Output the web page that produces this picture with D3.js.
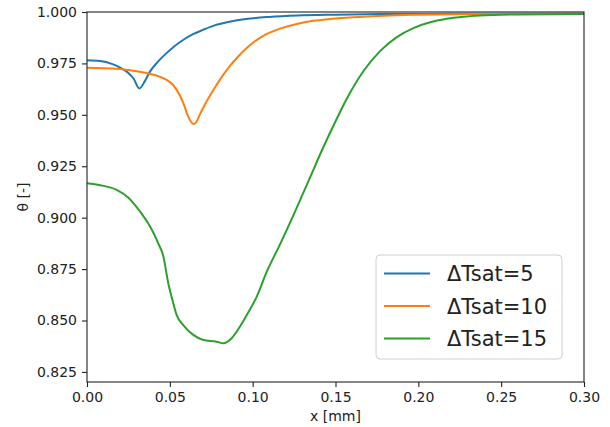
<!DOCTYPE html>
<html lang="en">
  <head>
    <meta charset="utf-8">
    <script src="https://cdn.jsdelivr.net/npm/d3@7"></script>
    <style>
      body { margin: 0; background: white; }
      text { font-family: "DejaVu Sans", sans-serif; }
    </style>
  </head>
  <body>
    <svg class="chart"></svg>
  </body>
  <script>
    // values
    var seriesNames = ['ΔTsat=5', 'ΔTsat=10', 'ΔTsat=15'];

    var xBlue = [0, 0.008, 0.015, 0.02, 0.025, 0.028, 0.0316, 0.035, 0.038, 0.043, 0.048, 0.053, 0.058, 0.064, 0.07, 0.077, 0.086, 0.096, 0.11, 0.127, 0.15, 0.18, 0.22, 0.26, 0.3];
    var yBlue = [0.9766, 0.9762, 0.9748, 0.9730, 0.9703, 0.9678, 0.9628, 0.9665, 0.9710, 0.9760, 0.9800, 0.9835, 0.9864, 0.9892, 0.9913, 0.9935, 0.9953, 0.9966, 0.9976, 0.9983, 0.9987, 0.9990, 0.9991, 0.9992, 0.9992];

    var xOrange = [0, 0.01, 0.022, 0.03, 0.038, 0.043, 0.048, 0.052, 0.056, 0.0585, 0.0602, 0.0625, 0.0645, 0.066, 0.068, 0.071, 0.0762, 0.081, 0.0863, 0.0914, 0.0964, 0.1014, 0.1064, 0.1165, 0.1266, 0.1366, 0.1466, 0.1667, 0.197, 0.237, 0.3];
    var yOrange = [0.9729, 0.9727, 0.9721, 0.9712, 0.9699, 0.9688, 0.9670, 0.9645, 0.9595, 0.9550, 0.9510, 0.9470, 0.9455, 0.9465, 0.9500, 0.9548, 0.9620, 0.9680, 0.9738, 0.9785, 0.9825, 0.9858, 0.9884, 0.9919, 0.9942, 0.9957, 0.9966, 0.9977, 0.9987, 0.9990, 0.9991];

    var xGreen = [0, 0.008, 0.0179, 0.025, 0.032, 0.037, 0.04, 0.043, 0.046, 0.0491, 0.0521, 0.0541, 0.0581, 0.0642, 0.0702, 0.0782, 0.0823, 0.0873, 0.0923, 0.0974, 0.1024, 0.1084, 0.1165, 0.1245, 0.1346, 0.1425, 0.1507, 0.1568, 0.1668, 0.1769, 0.187, 0.197, 0.2071, 0.2172, 0.2372, 0.26, 0.3];
    var yGreen = [0.9167, 0.9158, 0.9135, 0.9097, 0.9030, 0.8972, 0.8928, 0.8875, 0.8815, 0.8680, 0.8584, 0.8527, 0.8478, 0.8430, 0.8405, 0.8397, 0.8389, 0.8414, 0.8470, 0.8540, 0.8615, 0.8735, 0.8870, 0.9010, 0.9195, 0.9340, 0.9480, 0.9578, 0.9712, 0.9810, 0.9878, 0.9922, 0.9950, 0.9967, 0.9983, 0.9988, 0.9990];

    var xTicks = [0, 0.05, 0.10, 0.15, 0.20, 0.25, 0.30];
    var yTicks = [0.825, 0.850, 0.875, 0.900, 0.925, 0.950, 0.975, 1.000];

    var colors = ['#1f77b4', '#ff7f0e', '#2ca02c'];

    var series = [
      {name: seriesNames[0], xs: xBlue, ys: yBlue},
      {name: seriesNames[1], xs: xOrange, ys: yOrange},
      {name: seriesNames[2], xs: xGreen, ys: yGreen}
    ];

    var screenWidth = 610, screenHeight = 427;
    var margins = {top: 12, bottom: 45, left: 87, right: 26};
    var width = screenWidth - margins.left - margins.right;
    var height = screenHeight - margins.top - margins.bottom;

    var svg = d3.select('.chart')
                .attr('width', screenWidth)
                .attr('height', screenHeight);

    var xScale = d3.scaleLinear().domain([0, 0.3]).range([0, width]);
    var yScale = d3.scaleLinear().domain([0.8201, 1.0]).range([height, 0]);

    var plot = svg.append('g')
                  .attr('transform', 'translate(' + margins.left + ',' + margins.top + ')');

    var line = d3.line()
                 .x(function(d){ return xScale(d[0]); })
                 .y(function(d){ return yScale(d[1]); })
                 .curve(d3.curveMonotoneX);

    plot.selectAll('path.series')
        .data(series)
        .enter()
        .append('path')
        .classed('series', true)
        .attr('fill', 'none')
        .attr('stroke', function(d, i){ return colors[i]; })
        .attr('stroke-width', 2)
        .attr('stroke-linejoin', 'round')
        .attr('d', function(d){
          return line(d.xs.map(function(x, i){ return [x, d.ys[i]]; }));
        });

    // axes
    var xAxis = d3.axisBottom(xScale)
                  .tickValues(xTicks)
                  .tickFormat(d3.format('.2f'))
                  .tickSizeInner(5).tickSizeOuter(0).tickPadding(5);
    var gx = plot.append('g').classed('xAxis', true)
                 .attr('transform', 'translate(0,' + height + ')')
                 .call(xAxis);

    var yAxis = d3.axisLeft(yScale)
                  .tickValues(yTicks)
                  .tickFormat(d3.format('.3f'))
                  .tickSizeInner(5).tickSizeOuter(0).tickPadding(5);
    var gy = plot.append('g').classed('yAxis', true)
                 .call(yAxis);

    [gx, gy].forEach(function(g){
      g.select('.domain').remove();
      g.selectAll('line').attr('stroke', '#222').attr('stroke-width', 1.1);
      g.selectAll('text')
       .attr('fill', '#222')
       .style('font-family', '"DejaVu Sans", sans-serif')
       .style('font-size', '14px');
    });

    // frame
    plot.append('rect')
        .attr('x', 0).attr('y', 0)
        .attr('width', width).attr('height', height)
        .attr('fill', 'none')
        .attr('stroke', '#222')
        .attr('stroke-width', 1.1);

    // axis labels
    svg.append('text')
       .attr('x', margins.left + width / 2)
       .attr('y', 421)
       .attr('text-anchor', 'middle')
       .attr('fill', '#222')
       .style('font-size', '14px')
       .text('x [mm]');

    svg.append('text')
       .attr('transform', 'translate(28,' + (margins.top + height / 2) + ') rotate(-90)')
       .attr('text-anchor', 'middle')
       .attr('fill', '#222')
       .style('font-size', '14px')
       .text('θ [-]');

    // legend
    var legend = svg.append('g')
                    .classed('legend', true)
                    .attr('transform', 'translate(376,255)');

    legend.append('rect')
          .attr('x', 0).attr('y', 0)
          .attr('width', 186).attr('height', 104)
          .attr('rx', 4)
          .attr('fill', 'white').attr('fill-opacity', 0.8)
          .attr('stroke', '#d0d0d0').attr('stroke-width', 1);

    var legendLines = legend.selectAll('g.legendLine')
                            .data(series)
                            .enter()
                            .append('g')
                            .classed('legendLine', true)
                            .attr('transform', function(d, i){ return 'translate(0,' + (18.5 + i * 32.5) + ')'; });

    legendLines.append('line')
               .attr('x1', 8).attr('x2', 54)
               .attr('y1', 0).attr('y2', 0)
               .attr('stroke', function(d, i){ return colors[i]; })
               .attr('stroke-width', 2);

    legendLines.append('text')
               .attr('x', 71)
               .attr('y', 7.5)
               .attr('fill', '#222')
               .style('font-size', '21px')
               .text(function(d){ return d.name; });
  </script>
</html>
